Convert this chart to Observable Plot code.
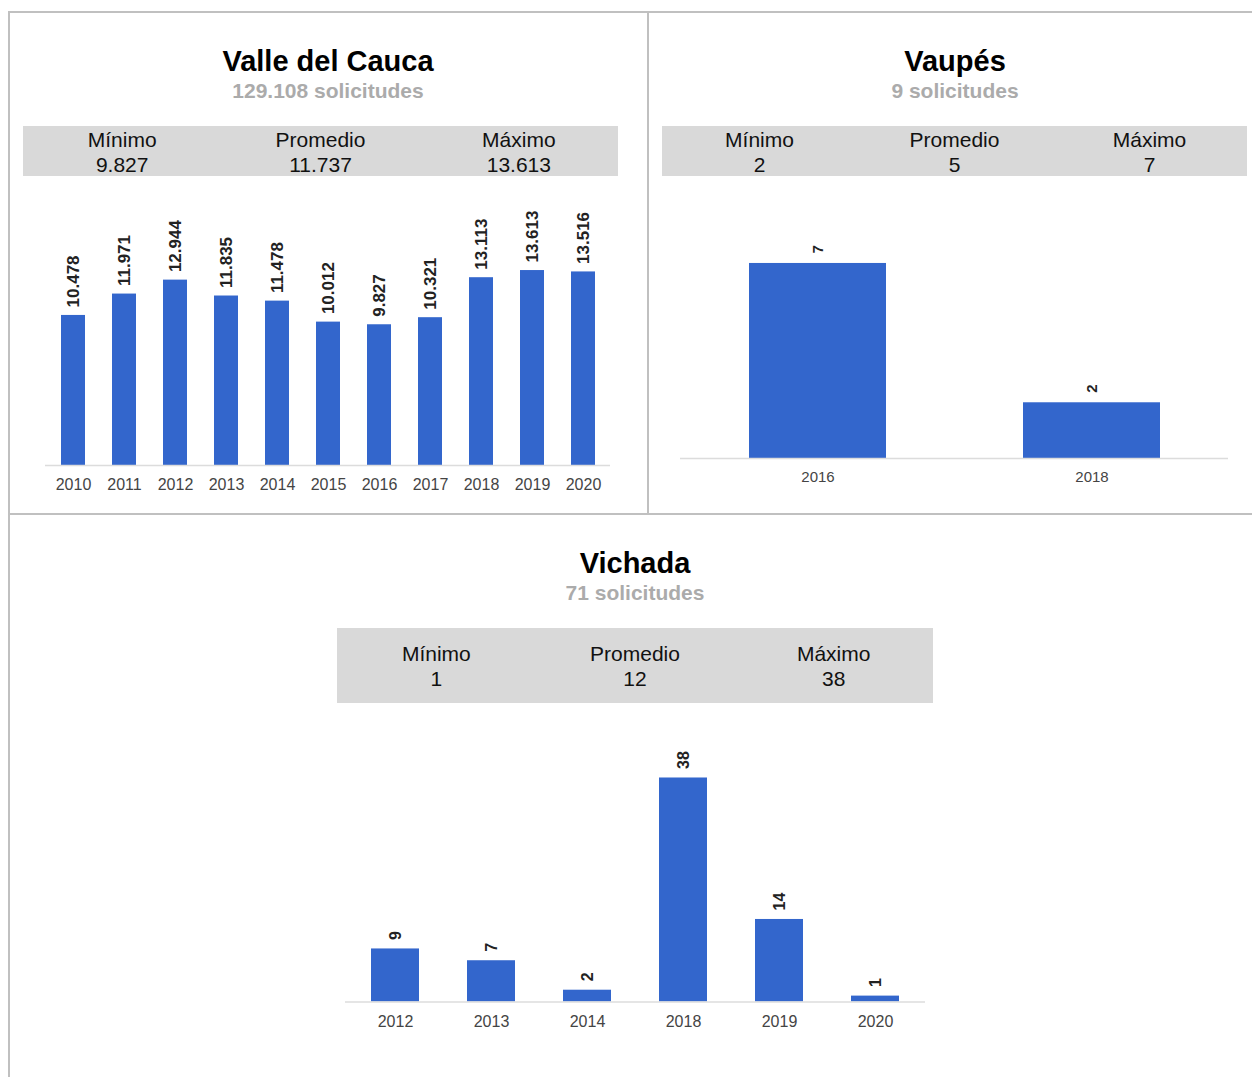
<!DOCTYPE html>
<html>
<head>
<meta charset="utf-8">
<script src="https://cdn.jsdelivr.net/npm/d3@7"></script>
<script src="https://cdn.jsdelivr.net/npm/@observablehq/plot@0.6"></script>
<style>
  html, body { margin: 0; padding: 0; background: #fff; }
  #root { position: relative; width: 1252px; height: 1077px; overflow: hidden; background: #fff;
          font-family: "Liberation Sans", Arial, Helvetica, sans-serif; }
  .line { position: absolute; background: #c0c0c0; }
  .txt { position: absolute; white-space: nowrap; line-height: 1; transform: translate(-50%, -50%); }
  .box { position: absolute; background: #d9d9d9; }
</style>
</head>
<body>
<div id="root"></div>
<script>
// ---------- data ----------
const panelTitles = ["Valle del Cauca", "Vaupés", "Vichada"];
const panelTotals = [129108, 9, 71];
const statLabels = ["Mínimo", "Promedio", "Máximo"];

const valleYears  = [2010, 2011, 2012, 2013, 2014, 2015, 2016, 2017, 2018, 2019, 2020];
const valleValues = [10478, 11971, 12944, 11835, 11478, 10012, 9827, 10321, 13113, 13613, 13516];
const valleStats  = [9827, 11737, 13613];

const vaupesYears  = [2016, 2018];
const vaupesValues = [7, 2];
const vaupesStats  = [2, 5, 7];

const vichadaYears  = [2012, 2013, 2014, 2018, 2019, 2020];
const vichadaValues = [9, 7, 2, 38, 14, 1];
const vichadaStats  = [1, 12, 38];

// ---------- helpers ----------
const FONT = '"Liberation Sans", Arial, Helvetica, sans-serif';
const esLocale = d3.formatLocale({decimal: ",", thousands: ".", grouping: [3], currency: ["$", ""]});
const fmt = esLocale.format(",d");
const root = document.getElementById("root");

function el(cls, css, text) {
  const d = document.createElement("div");
  d.className = cls;
  Object.assign(d.style, css);
  if (text != null) d.textContent = text;
  root.appendChild(d);
  return d;
}
function px(v) { return v + "px"; }

// borders
el("line", {left: px(8), top: px(11), width: px(1244), height: px(2)});
el("line", {left: px(8), top: px(11), width: px(2), height: px(1066)});
el("line", {left: px(647), top: px(11), width: px(2), height: px(503)});
el("line", {left: px(8), top: px(513), width: px(1244), height: px(2)});

function header(title, total, cx, ty, sy) {
  el("txt", {left: px(cx), top: px(ty), fontSize: "29px", fontWeight: "bold", color: "#000"}, title);
  el("txt", {left: px(cx), top: px(sy), fontSize: "21px", fontWeight: "bold", color: "#ababab"},
     fmt(total) + " solicitudes");
}
function statsBox(stats, x0, x1, y0, y1, ly, vy) {
  el("box", {left: px(x0), top: px(y0), width: px(x1 - x0), height: px(y1 - y0)});
  const w = (x1 - x0) / 3;
  statLabels.forEach((lab, i) => {
    const cx = x0 + w * (i + 0.5);
    el("txt", {left: px(cx), top: px(ly), fontSize: "21px", color: "#111"}, lab);
    el("txt", {left: px(cx), top: px(vy), fontSize: "21px", color: "#111"}, fmt(stats[i]));
  });
}

function barChart(years, values, o) {
  const data = years.map((y, i) => ({year: y, value: values[i]}));
  const marks = [
    Plot.barY(data, {x: "year", y: "value", fill: "#3366cc"}),
    Plot.ruleY([0], {stroke: "#dcdcdc", strokeWidth: 1.5}),
    Plot.text(data, {
      x: "year", y: "value", text: d => fmt(d.value), rotate: -90, textAnchor: "start",
      dy: -o.gap, fontWeight: "bold", fontSize: o.labelSize, fill: "#222"
    })
  ];
  const xScale = {type: "band", domain: years, paddingInner: o.pi, paddingOuter: o.po, label: null};
  if (typeof Plot.axisX === "function") {
    marks.push(Plot.axisX({tickSize: 0, tickPadding: o.tickPadding, fontSize: o.axisSize,
                           color: "#444", label: null, tickFormat: d => String(d)}));
  } else {
    Object.assign(xScale, {tickSize: 0, tickPadding: o.tickPadding, tickFormat: d => String(d)});
  }
  const svg = Plot.plot({
    width: o.width, height: o.height,
    marginTop: o.mt, marginBottom: o.mb, marginLeft: o.ml, marginRight: o.mr,
    style: {fontFamily: FONT, fontSize: o.axisSize + "px", color: "#444", background: "transparent", overflow: "visible"},
    x: xScale,
    y: {domain: [0, o.ymax], axis: null},
    marks
  });
  svg.style.position = "absolute";
  svg.style.left = px(o.left);
  svg.style.top = px(o.top);
  root.appendChild(svg);
}

// ---------- Panel 1: Valle del Cauca ----------
header(panelTitles[0], panelTotals[0], 328, 61, 90);
statsBox(valleStats, 23, 618, 126, 176, 139, 164);
barChart(valleYears, valleValues, {
  left: 0, top: 190, width: 648, height: 310,
  mt: 74.5, mb: 35, ml: 45, mr: 38, ymax: 14000,
  pi: 0.53, po: 0.29, gap: 8, labelSize: 17, axisSize: 16, tickPadding: 13
});

// ---------- Panel 2: Vaupés ----------
header(panelTitles[1], panelTotals[1], 955, 61, 90);
statsBox(vaupesStats, 662, 1247, 126, 176, 139, 164);
barChart(vaupesYears, vaupesValues, {
  left: 648, top: 190, width: 604, height: 310,
  mt: 45.1, mb: 42, ml: 32, mr: 24, ymax: 8,
  pi: 0.5, po: 0.25, gap: 10, labelSize: 15, axisSize: 15, tickPadding: 13
});

// ---------- Panel 3: Vichada ----------
header(panelTitles[2], panelTotals[2], 635, 563, 592);
statsBox(vichadaStats, 337, 933, 628, 703, 653, 678);
barChart(vichadaYears, vichadaValues, {
  left: 0, top: 720, width: 1252, height: 330,
  mt: 45.7, mb: 48.5, ml: 345, mr: 327, ymax: 40,
  pi: 0.5, po: 0.26, gap: 9, labelSize: 16, axisSize: 16, tickPadding: 14
});
</script>
</body>
</html>
